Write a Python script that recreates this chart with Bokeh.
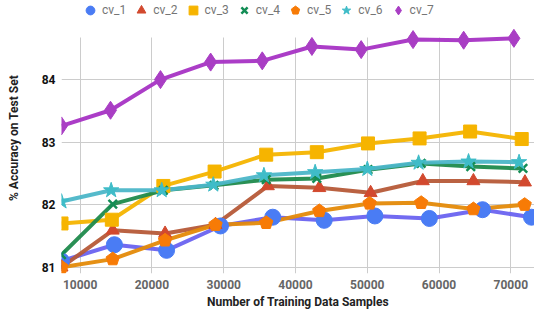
from bokeh.plotting import figure
from bokeh.models import Legend, LegendItem, FixedTicker, Range1d, Grid
from bokeh.embed import file_html
from bokeh.resources import INLINE

names = ["cv_1", "cv_2", "cv_3", "cv_4", "cv_5", "cv_6", "cv_7"]

cv1_x = [7400, 14770, 22040, 29550, 36830, 44000, 51060, 58650, 66060, 72880]
cv1_y = [81.10, 81.36, 81.27, 81.66, 81.80, 81.75, 81.82, 81.78, 81.92, 81.80]

cv2_x = [7400, 14540, 21830, 28860, 36150, 43320, 50470, 57740, 64790, 71970]
cv2_y = [81.00, 81.59, 81.54, 81.68, 82.30, 82.27, 82.19, 82.38, 82.38, 82.36]

cv3_x = [7400, 14410, 21590, 28730, 35920, 42970, 50100, 57290, 64330, 71520]
cv3_y = [81.70, 81.76, 82.30, 82.53, 82.80, 82.84, 82.98, 83.06, 83.17, 83.05]

cv4_x = [7400, 14540, 21590, 28650, 35920, 42970, 50100, 57510, 64420, 71690]
cv4_y = [81.20, 82.01, 82.23, 82.31, 82.40, 82.42, 82.56, 82.66, 82.61, 82.58]

cv5_x = [7400, 14540, 21830, 28860, 35920, 43320, 50330, 57510, 64790, 71930]
cv5_y = [81.00, 81.13, 81.43, 81.68, 81.71, 81.90, 82.02, 82.03, 81.93, 82.00]

cv6_x = [7400, 14320, 21360, 28550, 35600, 42740, 50010, 57150, 64110, 71150]
cv6_y = [82.05, 82.23, 82.23, 82.32, 82.47, 82.52, 82.57, 82.67, 82.69, 82.68]

cv7_x = [7400, 14230, 21190, 28180, 35370, 42290, 49150, 56380, 63430, 70430]
cv7_y = [83.26, 83.51, 84.00, 84.28, 84.30, 84.53, 84.48, 84.64, 84.63, 84.66]

x_ticks = [10000, 20000, 30000, 40000, 50000, 60000, 70000]
y_ticks = [81, 82, 83, 84]

xs = [cv1_x, cv2_x, cv3_x, cv4_x, cv5_x, cv6_x, cv7_x]
ys = [cv1_y, cv2_y, cv3_y, cv4_y, cv5_y, cv6_y, cv7_y]

line_colors = ["#6a63f0", "#b65a38", "#f4b400", "#1f8a4c", "#e48a08", "#4cb6c8", "#a733c4"]
marker_colors = ["#4a7cf4", "#d2492e", "#f6b400", "#138d55", "#f77b06", "#3fbcc8", "#a93ec4"]
markers = ["circle", "triangle", "square", "x", "pentagon", "star", "diamond"]
sizes = [16, 13, 13, 12, 7, 16, 18]

y_lo, y_hi = 80.9, 84.68

p = figure(width=534, height=311, output_backend="svg", toolbar_location=None,
           x_range=Range1d(7400, 73300), y_range=Range1d(y_lo, 85.233),
           min_border_left=61, min_border_right=0, min_border_top=2, min_border_bottom=36)
p.outline_line_color = None
p.background_fill_color = "white"
p.border_fill_color = "white"

items = []
for i in range(7):
    p.line(xs[i], ys[i], line_color=line_colors[i], line_width=4, line_alpha=0.95)
for i in range(7):
    c = marker_colors[i]
    if markers[i] == "pentagon":
        r = p.ngon(x=xs[i], y=ys[i], radius=sizes[i], n=5, radius_units="screen",
                   fill_color=c, line_color=c)
    elif markers[i] == "x":
        r = p.scatter(xs[i], ys[i], marker="x", size=sizes[i], line_color=c, line_width=2.5)
    else:
        r = p.scatter(xs[i], ys[i], marker=markers[i], size=sizes[i], fill_color=c, line_color=c)
    items.append(LegendItem(label=names[i], renderers=[r]))

legend = Legend(items=items, orientation="horizontal", location=(18, 252),
                glyph_width=22, glyph_height=22, label_standoff=1, spacing=4,
                padding=0, margin=0, border_line_alpha=0, background_fill_alpha=0,
                label_text_font="Roboto", label_text_font_size="12px",
                label_text_color="#757575", label_height=22)
p.add_layout(legend, "center")

p.xaxis.ticker = FixedTicker(ticks=x_ticks)
p.yaxis.ticker = FixedTicker(ticks=y_ticks)
p.xgrid.ticker = FixedTicker(ticks=x_ticks)
p.ygrid.ticker = FixedTicker(ticks=y_ticks)
p.grid.grid_line_color = "#cccccc"
p.grid.grid_line_width = 1
if "cross_bounds" in Grid.properties():
    p.xgrid.cross_bounds = (y_lo, y_hi)
p.yaxis.bounds = (y_lo, y_hi)

for ax in (p.xaxis, p.yaxis):
    ax.axis_line_color = None
    ax.major_tick_line_color = None
    ax.minor_tick_line_color = None
    ax.major_tick_out = 0
    ax.major_tick_in = 0
    ax.major_label_text_font = "Roboto"
    ax.major_label_text_font_style = "bold"
    ax.major_label_text_font_size = "12px"
    ax.axis_label_text_font = "Roboto"
    ax.axis_label_text_font_style = "bold"
    ax.axis_label_text_font_size = "12px"
    ax.axis_label_text_color = "#222222"
    ax.major_label_standoff = 6

p.xaxis.major_label_text_color = "#666666"
p.yaxis.major_label_text_color = "#111111"
p.xaxis.axis_label = "Number of Training Data Samples"
p.yaxis.axis_label = "% Accuracy on Test Set"
p.xaxis.axis_label_standoff = 3
p.yaxis.axis_label_standoff = 18
p.xaxis.formatter.use_scientific = False

open("out.html", "w").write(file_html(p, INLINE))
